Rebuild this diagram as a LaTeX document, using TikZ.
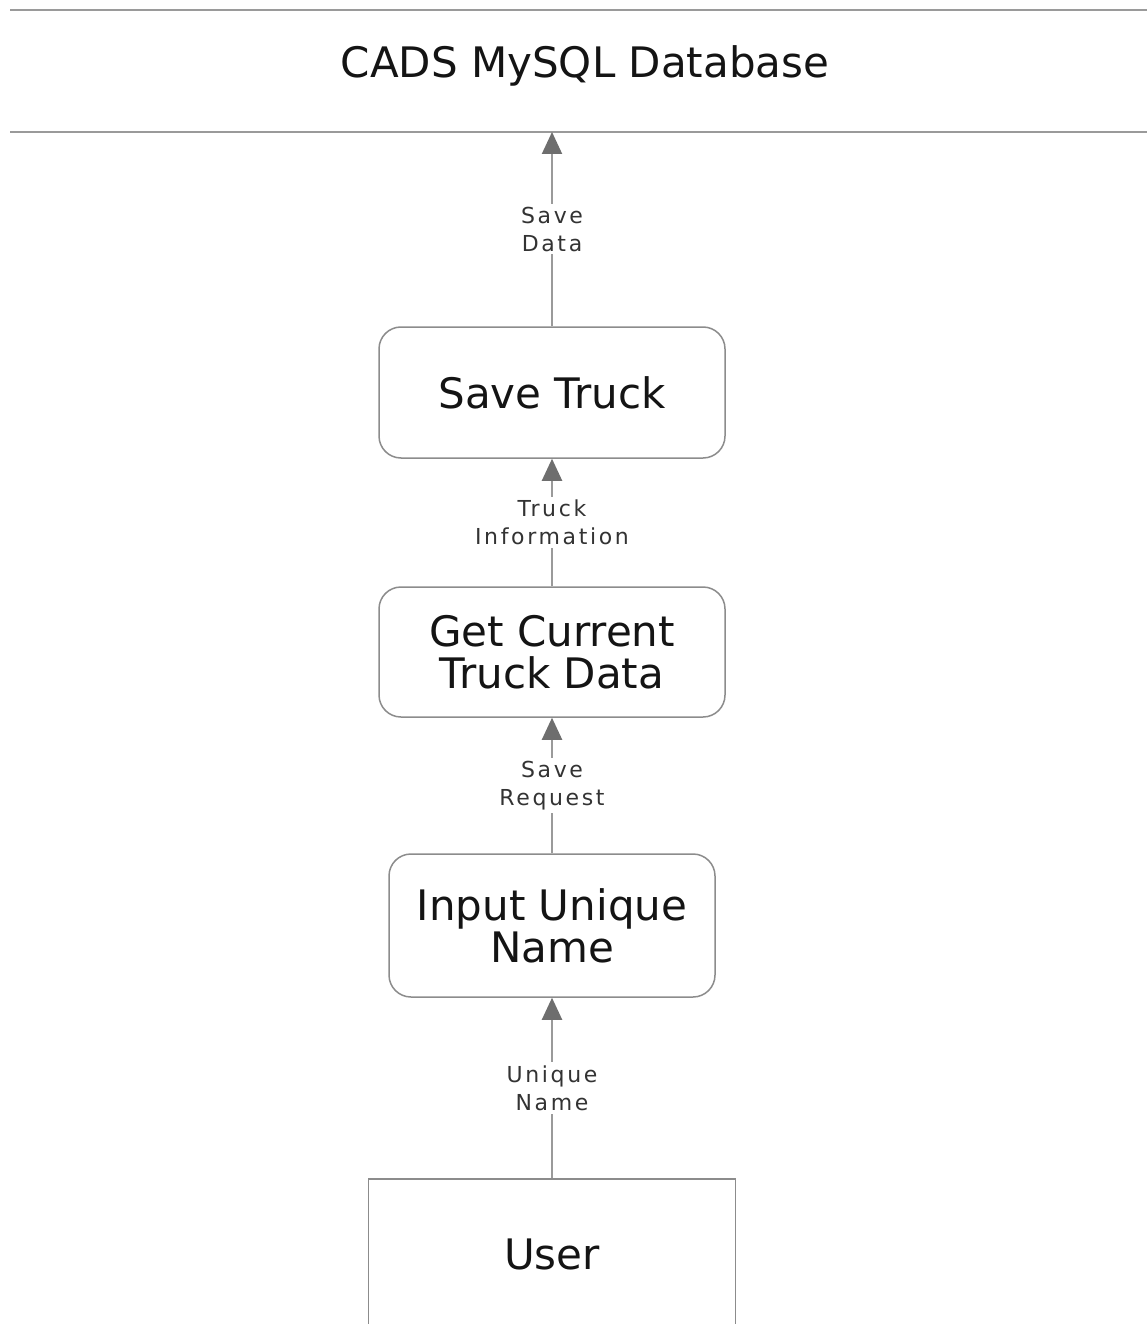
\documentclass[tikz,border=0pt]{standalone}
\usepackage{fontspec}
\setmainfont{DejaVu Sans}
\newfontfamily\lblfont[LetterSpace=12]{DejaVu Sans}
\usetikzlibrary{arrows.meta}
\definecolor{edgegray}{HTML}{9A9A9A}
\definecolor{tipgray}{HTML}{6E6E6E}
\definecolor{boxgray}{HTML}{8C8C8C}
\definecolor{inkdark}{HTML}{141414}
\begin{document}
\begin{tikzpicture}[x=1pt,y=-1pt,
  proc/.style={draw=boxgray, line width=1.5pt, rounded corners=22pt, fill=white,
    align=center, inner sep=0pt, text=inkdark,
    font=\fontsize{42}{42}\selectfont},
  actor/.style={draw=boxgray, line width=1.5pt, fill=white, align=center,
    inner sep=0pt, text=inkdark, font=\fontsize{42}{42}\selectfont},
  dbline/.style={draw=edgegray, line width=2pt},
  flow/.style={draw=edgegray, line width=2pt,
    -{Triangle[length=22pt,width=20pt,color=tipgray,fill=tipgray]}},
  lbl/.style={fill=white, align=center, inner sep=3pt, text=black!80,
    font=\lblfont\fontsize{22}{28}\selectfont}]
  \clip (0,0) rectangle (1147,1324);
  \fill[white] (0,0) rectangle (1147,1324);

  % data store
  \draw[dbline] (10,10) -- (1160,10);
  \draw[dbline] (10,132) -- (1160,132);
  \node[anchor=base, text=inkdark, font=\fontsize{42}{42}\selectfont] (dbtitle) at (585,78) {CADS MySQL Database};
  \coordinate (dbedge) at (552,132);

  % processes
  \node[proc, minimum width=346pt, minimum height=131pt] (save) at (552,392.5) {Save Truck};
  \node[proc, minimum width=346pt, minimum height=130pt] (get) at (552,652) {Get Current\\Truck Data};
  \node[proc, minimum width=326pt, minimum height=143pt] (input) at (552,925.5) {Input Unique\\Name};

  % external entity
  \node[actor, minimum width=367pt, minimum height=150pt] (user) at (552,1254) {User};

  % data flows
  \draw[flow] (user) -- node[lbl] {Unique\\Name} (input);
  \draw[flow] (input) -- node[lbl] {Save\\Request} (get);
  \draw[flow] (get) -- node[lbl] {Truck\\Information} (save);
  \draw[flow] (save) -- node[lbl] {Save\\Data} (dbedge);
\end{tikzpicture}
\end{document}
